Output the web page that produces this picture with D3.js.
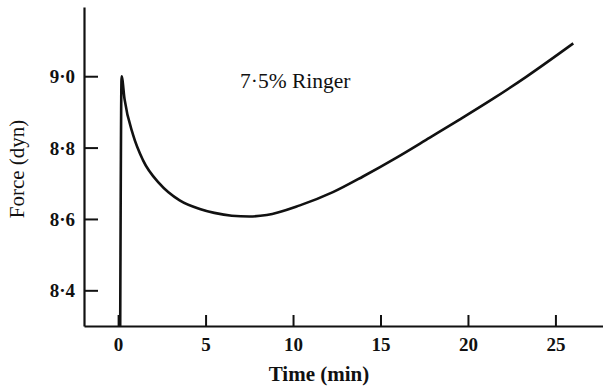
<!DOCTYPE html>
<html>
<head>
<meta charset="utf-8">
<script src="https://cdn.jsdelivr.net/npm/d3@7"></script>
<style>
  html, body { margin: 0; padding: 0; background: #fff; }
  svg { display: block; }
  text { font-family: "Liberation Serif", "DejaVu Serif", serif; fill: #111; }
</style>
</head>
<body>
<svg id="chart" width="603" height="389"></svg>
<script>
// ---- data ----
const timeMin = [0.12, 0.2, 0.37, 0.86, 1.42, 2.37, 3.52, 4.67, 5.5, 6.5, 7.5, 8.5, 10.39, 12.28, 14.0, 15.92, 17.82, 19.54, 21.44, 23.35, 26.02];
const forceDyn = [8.30, 9.0, 8.935, 8.835, 8.765, 8.699, 8.652, 8.628, 8.617, 8.609, 8.607, 8.611, 8.638, 8.675, 8.719, 8.772, 8.828, 8.879, 8.937, 8.999, 9.092];
const xTicks = [0, 5, 10, 15, 20, 25];
const xTickLabels = ["0", "5", "10", "15", "20", "25"];
const yTicks = [8.4, 8.6, 8.8, 9.0];
const yTickLabels = ["8·4", "8·6", "8·8", "9·0"];
const annotation = "7·5% Ringer";
const xTitle = "Time (min)";
const yTitle = "Force (dyn)";

const svg = d3.select("#chart");
const x = d3.scaleLinear().domain([-1.95, 27.72]).range([84, 603]);
const y = d3.scaleLinear().domain([8.30, 9.194]).range([326, 7]);

// axes
const xAxis = svg.append("g").attr("transform", `translate(0,${y(8.30)})`)
  .call(d3.axisBottom(x).tickValues(xTicks).tickSizeInner(-11).tickSizeOuter(0)
        .tickFormat((d, i) => xTickLabels[i]));
const yAxis = svg.append("g").attr("transform", `translate(${x(-1.95)},0)`)
  .call(d3.axisLeft(y).tickValues(yTicks).tickSizeInner(-14).tickSizeOuter(0)
        .tickFormat((d, i) => yTickLabels[i]));

[xAxis, yAxis].forEach(g => {
  g.select(".domain").attr("stroke", "#111").attr("stroke-width", 2.2);
  g.selectAll(".tick line").attr("stroke", "#111").attr("stroke-width", 2);
  g.selectAll(".tick text").attr("fill", "#111")
    .style("font-family", '"Liberation Serif", serif')
    .style("font-size", "19px").style("font-weight", "bold");
});
xAxis.selectAll(".tick text").attr("y", 12).attr("dy", "0.71em");
yAxis.selectAll(".tick text").attr("x", -9).attr("dy", "0.35em");

// curve
const pts = timeMin.map((t, i) => [t, forceDyn[i]]);
svg.append("path")
  .datum(pts)
  .attr("fill", "none")
  .attr("stroke", "#111")
  .attr("stroke-width", 2.6)
  .attr("stroke-linejoin", "round")
  .attr("d", d3.line().x(d => x(d[0])).y(d => y(d[1])).curve(d3.curveMonotoneX));

// annotation
svg.append("text").attr("x", 240).attr("y", 88)
  .style("font-size", "21.5px").text(annotation);

// titles
svg.append("text").attr("x", 319).attr("y", 381).attr("text-anchor", "middle")
  .style("font-size", "21px").style("font-weight", "bold").text(xTitle);
svg.append("text").attr("transform", "translate(24,169) rotate(-90)").attr("text-anchor", "middle")
  .style("font-size", "21px").text(yTitle);
</script>
</body>
</html>
